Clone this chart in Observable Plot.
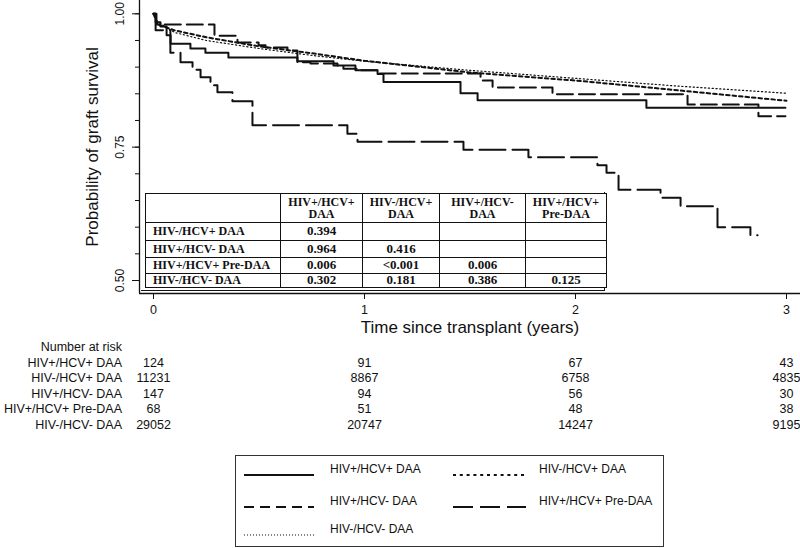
<!DOCTYPE html>
<html><head><meta charset="utf-8">
<script src="https://cdn.jsdelivr.net/npm/d3@7"></script>
<script src="https://cdn.jsdelivr.net/npm/@observablehq/plot@0.6"></script>
<style>
body{margin:0;background:#fff;font-family:"Liberation Sans",Arial,sans-serif;}
#wrap{position:relative;width:800px;height:548px;overflow:hidden;}
#ptab{position:absolute;left:145px;top:193px;border-collapse:collapse;font-family:"Liberation Serif","Times New Roman",serif;font-weight:bold;font-size:12px;color:#111;background:#fff;}
#ptab td{border:1.6px solid #111;padding:0;text-align:center;line-height:12.5px;}
#ptab td.v{font-size:13px;}
#ptab td.rl{text-align:left;padding-left:7px;}
#pbox{position:absolute;left:141px;top:192px;width:464px;height:99px;border-right:1.6px solid #111;border-bottom:1.6px solid #111;box-sizing:border-box;background:#fff;}
#legend{position:absolute;left:235px;top:455px;width:429px;height:92px;border:1.3px solid #333;box-sizing:border-box;background:#fff;}
.le{position:absolute;font-size:12px;color:#111;white-space:nowrap;}
.ls{position:absolute;}
</style></head><body><div id="wrap"></div>
<script>
// ---- data ----
const groups = ["HIV+/HCV+ DAA","HIV-/HCV+ DAA","HIV+/HCV- DAA","HIV+/HCV+ Pre-DAA","HIV-/HCV- DAA"];

// HIV+/HCV+ DAA (step)
const tPosPosDAA = [0,0.01,0.033,0.062,0.081,0.175,0.246,0.355,0.682,0.853,0.957,1.062,1.090,1.455,1.536,2.336,2.995];
const sPosPosDAA = [1.0,0.984,0.976,0.960,0.944,0.935,0.927,0.918,0.911,0.903,0.894,0.887,0.872,0.851,0.838,0.824,0.824];
// HIV-/HCV+ DAA
const tNegPosDAA = [0,0.02,0.1,0.25,0.5,0.75,1.0,1.5,2.0,2.5,3.0];
const sNegPosDAA = [1.0,0.980,0.969,0.956,0.939,0.926,0.912,0.890,0.875,0.856,0.837];
// HIV+/HCV- DAA (step)
const tPosNegDAA = [0,0.014,0.289,0.398,0.498,0.531,0.635,0.682,0.744,0.872,0.900,0.967,1.066,1.550,1.607,1.891,2.531,2.867,2.995];
const sPosNegDAA = [1.0,0.980,0.959,0.946,0.941,0.937,0.931,0.909,0.907,0.903,0.897,0.894,0.888,0.875,0.862,0.849,0.830,0.808,0.808];
// HIV+/HCV+ Pre-DAA (step)
const tPosPosPre = [0,0.01,0.08,0.128,0.185,0.223,0.27,0.303,0.374,0.469,0.919,0.967,1.469,1.777,2.104,2.147,2.204,2.403,2.498,2.673,2.829,2.863];
const sPosPosPre = [1.0,0.969,0.927,0.909,0.895,0.881,0.866,0.853,0.836,0.791,0.775,0.760,0.745,0.731,0.716,0.702,0.670,0.655,0.639,0.600,0.585,0.585];
// HIV-/HCV- DAA
const tNegNegDAA = [0,0.02,0.1,0.25,0.5,0.75,1.0,1.5,2.0,2.5,3.0];
const sNegNegDAA = [1.0,0.985,0.965,0.950,0.935,0.922,0.911,0.894,0.879,0.864,0.851];

// number at risk
const riskTimes = [0,1,2,3];
const riskPosPosDAA = [124,91,67,43];
const riskNegPosDAA = [11231,8867,6758,4835];
const riskPosNegDAA = [147,94,56,30];
const riskPosPosPre = [68,51,48,38];
const riskNegNegDAA = [29052,20747,14247,9195];

// p-value table
const pColHeads = [["HIV+/HCV+","DAA"],["HIV-/HCV+","DAA"],["HIV+/HCV-","DAA"],["HIV+/HCV+","Pre-DAA"]];
const pRowHeads = ["HIV-/HCV+ DAA","HIV+/HCV- DAA","HIV+/HCV+ Pre-DAA","HIV-/HCV- DAA"];
const pVals = [["0.394","","",""],["0.964","0.416","",""],["0.006","<0.001","0.006",""],["0.302","0.181","0.386","0.125"]];

const xTicks = [0,1,2,3];
const yMajor = [0.5,0.75,1.0];
const yMinor = [0.5,0.55,0.6,0.65,0.7,0.75,0.8,0.85,0.9,0.95,1.0];

// ---- build ----
const series = [
  {g:groups[0], t:tPosPosDAA, s:sPosPosDAA, curve:"step-after", dash:null, w:2},
  {g:groups[1], t:tNegPosDAA, s:sNegPosDAA, curve:"linear", dash:"3.5,3", w:2},
  {g:groups[2], t:tPosNegDAA, s:sPosNegDAA, curve:"step-after", dash:"16,6", w:2},
  {g:groups[3], t:tPosPosPre, s:sPosPosPre, curve:"step-after", dash:"26,7", w:2},
  {g:groups[4], t:tNegNegDAA, s:sNegNegDAA, curve:"linear", dash:"1.2,2.6", w:1.2}
];
const legendDash = [null,"3,3.8","10,6","20,7","1,2"];
const risks = [riskPosPosDAA,riskNegPosDAA,riskPosNegDAA,riskPosPosPre,riskNegNegDAA];

const X0 = 153, X3 = 786, Y1 = 13.3, Y05 = 280;
const frameLeft = 139, frameBottom = 293;
const xAt = p => (p - X0) / (X3 - X0) * 3;
const yAt = p => 0.5 + (Y05 - p) / (Y05 - Y1) * 0.5;

const font = "Liberation Sans, Arial, sans-serif";
const marks = [];
marks.push(Plot.ruleX([xAt(frameLeft)], {stroke:"#111", strokeWidth:1.3}));
marks.push(Plot.ruleY([yAt(frameBottom)], {stroke:"#111", strokeWidth:1.3}));
marks.push(Plot.axisY(yMinor, {anchor:"left", label:null, tickSize:4, tickFormat:()=>"", stroke:"#111"}));
marks.push(Plot.axisY(yMajor, {anchor:"left", label:null, tickSize:7, tickFormat:()=>"", stroke:"#111"}));
marks.push(Plot.text(yMajor, {y:d=>d, text:d=>d.toFixed(2), frameAnchor:"left", textAnchor:"middle", dx:-19, rotate:-90, fontSize:12, fill:"#111"}));
marks.push(Plot.axisX(xTicks, {anchor:"bottom", label:null, tickSize:6, tickPadding:6, fontSize:12.5, tickFormat:d=>String(d), stroke:"#111"}));
marks.push(Plot.text(["Probability of graft survival"], {frameAnchor:"left", textAnchor:"middle", dx:-47, rotate:-90, fontSize:17, fill:"#111"}));
marks.push(Plot.text(["Time since transplant (years)"], {frameAnchor:"bottom", textAnchor:"middle", dy:39, fontSize:17, fill:"#111"}));

series.forEach(sr => {
  const data = sr.t.map((t,i)=>({t, s:sr.s[i]}));
  marks.push(Plot.line(data, {x:"t", y:"s", curve:sr.curve, stroke:"#111", strokeWidth:sr.w, strokeDasharray:sr.dash || undefined}));
});

const rowDy = [73, 88.5, 104, 119.5, 135];
marks.push(Plot.text(["Number at risk"], {frameAnchor:"bottom-left", dx:-17.5, dy:57.7, textAnchor:"end", fontSize:12.5, fill:"#111"}));
risks.forEach((vals,i) => {
  marks.push(Plot.text([groups[i]], {frameAnchor:"bottom-left", dx:-17.5, dy:rowDy[i], textAnchor:"end", fontSize:12.5, fill:"#111"}));
  marks.push(Plot.text(riskTimes.map((t,j)=>({t, n:vals[j]})), {x:"t", text:d=>String(d.n), frameAnchor:"bottom", textAnchor:"middle", dy:rowDy[i], fontSize:12.5, fill:"#111"}));
});

const plot = Plot.plot({
  width:800, height:548,
  marginLeft:frameLeft, marginRight:0, marginTop:0, marginBottom:548-frameBottom,
  x:{domain:[0,3], range:[X0,X3]},
  y:{domain:[0.5,1], range:[Y05,Y1]},
  style:{fontFamily:font, background:"#fff", color:"#111", overflow:"visible"},
  marks
});
const wrap = document.getElementById("wrap");
wrap.appendChild(plot);

// p-value table
const box = document.createElement("div"); box.id="pbox"; wrap.appendChild(box);
const tab = document.createElement("table"); tab.id="ptab";
const colW = [134, 81, 76, 85, 80];
const rowH = [29, 18, 17, 15.5, 14.5];
let html = "<tr style='height:"+rowH[0]+"px'><td style='width:"+colW[0]+"px'></td>";
pColHeads.forEach((h,j)=>{ html += "<td style='width:"+colW[j+1]+"px'>"+h[0]+"<br>"+h[1]+"</td>"; });
html += "</tr>";
pRowHeads.forEach((r,i)=>{
  html += "<tr style='height:"+rowH[i+1]+"px'><td class='rl'>"+r.replace("<","&lt;")+"</td>";
  pVals[i].forEach(v=>{ html += "<td class='v'>"+v.replace("<","&lt;")+"</td>"; });
  html += "</tr>";
});
tab.innerHTML = html;
wrap.appendChild(tab);

// legend
const leg = document.createElement("div"); leg.id="legend";
const pos = [[8,13],[217,13],[8,45],[217,45],[8,73]];
groups.forEach((g,i)=>{
  const [lx,ly] = pos[i];
  const w = i%2===0 ? 70 : 73;
  const sw = i===4 ? 1 : 2;
  const dash = legendDash[i] ? `stroke-dasharray="${legendDash[i]}"` : "";
  const s = document.createElement("div"); s.className="ls";
  s.style.left = lx+"px"; s.style.top = (ly-4)+"px";
  s.innerHTML = `<svg width="${w}" height="8"><line x1="0" x2="${w}" y1="4" y2="4" stroke="#111" stroke-width="${sw}" ${dash}/></svg>`;
  leg.appendChild(s);
  const t = document.createElement("div"); t.className="le";
  t.style.left = (lx+86)+"px"; t.style.top = (ly-7)+"px";
  t.textContent = g;
  leg.appendChild(t);
});
wrap.appendChild(leg);
</script>
</body></html>
